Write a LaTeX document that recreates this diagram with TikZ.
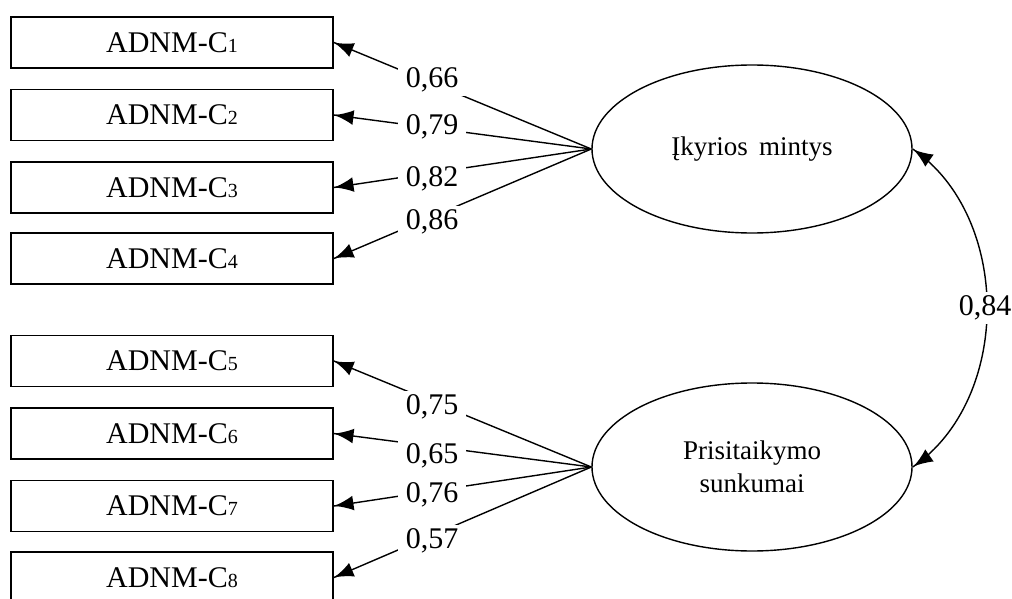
\documentclass[tikz,border=0pt]{standalone}
\usepackage{fontspec}
\setmainfont{Liberation Serif}
\usetikzlibrary{arrows}
\usetikzlibrary{decorations.markings}
\usetikzlibrary{shapes.geometric}
\tikzset{load/.style = {decoration={markings,
                                    mark=at position 1 with {\arrow[scale=2]{latex}}},
                        postaction={decorate}}}
\tikzset{corr/.style = {decoration={markings,
                                    mark=at position 0.002 with {\arrowreversed[scale=2]{latex}},
                                    mark=at position 0.998 with {\arrow[scale=2]{latex}}},
                        postaction={decorate}}}
\tikzset{indicator/.style = {draw, line width = 0.9pt, minimum width = 161pt, minimum height = 25.5pt,
                             inner sep = 0, font = \fontsize{15}{18}\selectfont}}
\tikzset{latent/.style = {draw, ellipse, line width = 0.7pt, minimum width = 160pt, minimum height = 84pt,
                          inner sep = 0, align = center, font = \fontsize{13.5}{16.5}\selectfont}}
\tikzset{coef/.style = {fill = white, inner xsep = 4pt, inner ysep = 2pt, font = \fontsize{15}{17}\selectfont}}
\newcommand{\adnm}[1]{ADNM-C{\fontsize{10}{12}\selectfont #1}}

\begin{document}
\begin{tikzpicture}[x = 0.5pt, y = -0.5pt, line width = 0.7pt]
      \useasboundingbox (0, 0) rectangle (1012, 599);

      \node [indicator] (c1) at (172, 42.5) {\adnm{1}};
      \node [indicator] (c2) at (172, 115) {\adnm{2}};
      \node [indicator] (c3) at (172, 187.5) {\adnm{3}};
      \node [indicator] (c4) at (172, 258.5) {\adnm{4}};
      \node [indicator] (c5) at (172, 361) {\adnm{5}};
      \node [indicator] (c6) at (172, 433.5) {\adnm{6}};
      \node [indicator] (c7) at (172, 506) {\adnm{7}};
      \node [indicator] (c8) at (172, 577.5) {\adnm{8}};

      \node [latent] (f1) at (752, 149) {Įkyrios\, mintys};
      \node [latent] (f2) at (752, 467) {Prisitaikymo\\ sunkumai};

      \draw [load] (f1.west) -- (c1.east);
      \draw [load] (f1.west) -- (c2.east);
      \draw [load] (f1.west) -- (c3.east);
      \draw [load] (f1.west) -- (c4.east);
      \draw [load] (f2.west) -- (c5.east);
      \draw [load] (f2.west) -- (c6.east);
      \draw [load] (f2.west) -- (c7.east);
      \draw [load] (f2.west) -- (c8.east);
      \draw [corr] (f1.east) .. controls (1012, 217) and (1012, 399) .. (f2.east);

      \node [coef] (l1) at (432, 80) {0,66};
      \node [coef] (l2) at (432, 127) {0,79};
      \node [coef] (l3) at (432, 179) {0,82};
      \node [coef] (l4) at (432, 222) {0,86};
      \node [coef] (l5) at (432, 407) {0,75};
      \node [coef] (l6) at (432, 456) {0,65};
      \node [coef] (l7) at (432, 495) {0,76};
      \node [coef] (l8) at (432, 541) {0,57};
      \node [coef] (r12) at (985, 308) {0,84};
    \end{tikzpicture}
\end{document}
